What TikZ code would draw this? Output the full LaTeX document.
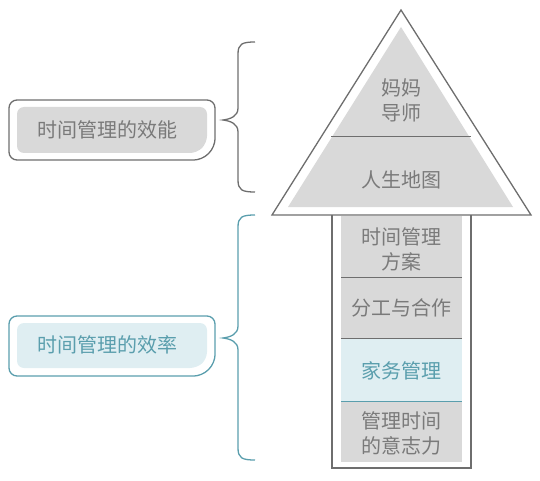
\documentclass[tikz,border=0pt]{standalone}
\usepackage{fontspec}
\setmainfont{Noto Sans CJK SC}
\usetikzlibrary{positioning,calc}
\definecolor{framegray}{HTML}{6E6E6E}
\definecolor{fillgray}{HTML}{D9D9D9}
\definecolor{textgray}{HTML}{7A7A7A}
\definecolor{nodeteal}{HTML}{5A9EAD}
\definecolor{fillteal}{HTML}{DFEEF2}

\begin{document}
\begin{tikzpicture}[
  x=1pt, y=-1pt,
  seg/.style={
    inner sep=0pt, align=center, text=textgray,
    font=\fontsize{20}{25}\selectfont
  },
  tag/.style={inner sep=0pt, text=textgray, font=\fontsize{20}{25}\selectfont},
  frame/.style={draw=framegray, line width=1.3pt},
  divider/.style={draw=framegray, line width=1pt},
  brace/.style={draw=framegray, line width=1.3pt}
]
\useasboundingbox (0,0) rectangle (540,481);

% Arrow head — effectiveness
\draw[frame, fill=white, line join=miter] (401,10) -- (531,215) -- (272,215) -- cycle;
\fill[fillgray] (401,27) -- (513,207) -- (288,207) -- cycle;
\draw[divider] (331,137) -- (471,137);

% Arrow stem — efficiency
\draw[frame] (332,215) -- (332,468) -- (471,468) -- (471,215);
\fill[fillgray] (341,216) rectangle (462,462);
\fill[fillteal] (341,338) rectangle (462,401);
\draw[divider] (341,277) -- (462,277);
\draw[divider] (341,338) -- (462,338);
\draw[divider, draw=nodeteal] (341,401) -- (462,401);

\node[seg] (mama)  at (401,100)   {妈妈\\导师};
\node[seg] (map)   at (401,180)   {人生地图};
\node[seg] (plan)  at (401.5,249) {时间管理\\方案};
\node[seg] (share) at (401.5,308) {分工与合作};
\node[seg, text=nodeteal] (house) at (401.5,371) {家务管理};
\node[seg] (will)  at (401.5,433) {管理时间\\的意志力};

% Left tags
\draw[frame, rounded corners=8pt] (9,100) -- (215,100) -- (215,147) -- (202,160) -- (9,160) -- cycle;
\fill[fillgray, rounded corners=7pt] (17,107) -- (207,107) -- (207,143) -- (197,153) -- (17,153) -- cycle;
\node[tag] (eff) at (107,130) {时间管理的效能};

\draw[frame, draw=nodeteal, rounded corners=8pt] (9,316) -- (215,316) -- (215,363) -- (202,376) -- (9,376) -- cycle;
\fill[fillteal, rounded corners=7pt] (17,323) -- (207,323) -- (207,359) -- (197,368) -- (17,368) -- cycle;
\node[tag, text=nodeteal] (rate) at (107,345) {时间管理的效率};

% Braces
\draw[brace] (255,42) .. controls (242,42) and (238,44) .. (238,54)
      -- (238,108) .. controls (238,116) and (231,119) .. (223,120)
      .. controls (231,121) and (238,124) .. (238,132)
      -- (238,180) .. controls (238,190) and (242,192) .. (255,192);
\draw[brace, draw=nodeteal] (255,215) .. controls (242,215) and (238,217) .. (238,227)
      -- (238,326) .. controls (238,334) and (231,337) .. (223,338)
      .. controls (231,339) and (238,342) .. (238,350)
      -- (238,448) .. controls (238,458) and (242,460) .. (255,460);

\end{tikzpicture}
\end{document}
